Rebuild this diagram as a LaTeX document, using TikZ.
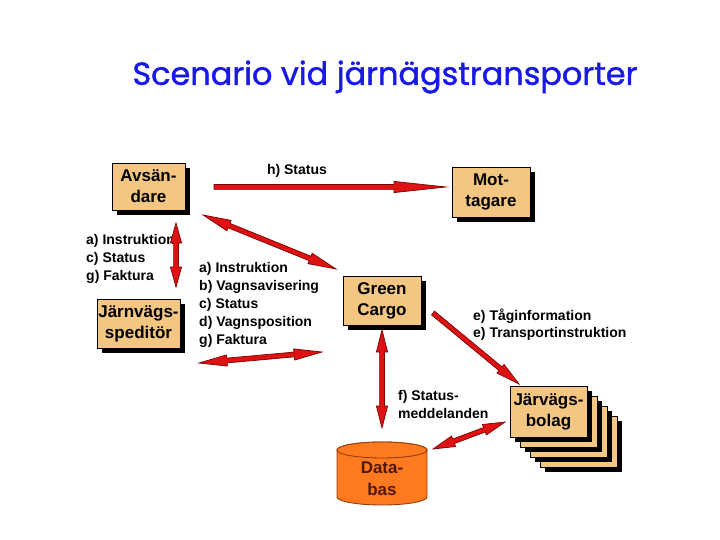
\documentclass[tikz,border=0pt]{standalone}
\usepackage{fontspec}
\setmainfont{Liberation Sans}
\newfontfamily\titlefont[FakeBold=1.3]{Poppins}
\usetikzlibrary{calc,shadows}
\definecolor{boxtan}{RGB}{243,198,130}
\definecolor{arrred}{RGB}{222,18,18}
\definecolor{arrdark}{RGB}{125,0,0}
\definecolor{dborange}{RGB}{255,122,30}
\definecolor{dbline}{RGB}{150,60,10}
\definecolor{dbtext}{RGB}{80,25,5}
\definecolor{titleblue}{RGB}{25,25,230}
\def\sw{2.4pt}
\def\hw{5.6pt}
\newcommand\dblarrow[3]{%
  \filldraw[arrowstyle] (#1)
    -- ($(#1)!#3!(#2)!\hw!90:(#2)$)
    -- ($(#1)!#3!(#2)!\sw!90:(#2)$)
    -- ($(#2)!#3!(#1)!\sw!-90:(#1)$)
    -- ($(#2)!#3!(#1)!\hw!-90:(#1)$)
    -- (#2)
    -- ($(#2)!#3!(#1)!\hw!90:(#1)$)
    -- ($(#2)!#3!(#1)!\sw!90:(#1)$)
    -- ($(#1)!#3!(#2)!\sw!-90:(#2)$)
    -- ($(#1)!#3!(#2)!\hw!-90:(#2)$)
    -- cycle;}
\newcommand\sglarrow[3]{%
  \filldraw[arrowstyle] ($(#1)!\sw!90:(#2)$)
    -- ($(#2)!#3!(#1)!\sw!-90:(#1)$)
    -- ($(#2)!#3!(#1)!\hw!-90:(#1)$)
    -- (#2)
    -- ($(#2)!#3!(#1)!\hw!90:(#1)$)
    -- ($(#2)!#3!(#1)!\sw!90:(#1)$)
    -- ($(#1)!\sw!-90:(#2)$)
    -- cycle;}
\begin{document}
\begin{tikzpicture}[x=1pt,y=-1pt,
  box/.style={draw=black, line width=0.6pt, fill=boxtan, align=center,
    inner sep=0pt, font=\bfseries\fontsize{17}{21}\selectfont,
    drop shadow={shadow xshift=5pt, shadow yshift=-5pt, opacity=1, fill=black}},
  lbl/.style={align=left, inner sep=0pt, font=\bfseries\fontsize{14}{18}\selectfont},
  arrowstyle/.style={fill=arrred, draw=arrdark, line width=0.7pt, line join=miter},
  dbstyle/.style={fill=dborange, draw=dbline, line width=0.9pt}]
\useasboundingbox (0,0) rectangle (720,540);
\fill[white] (0,0) rectangle (720,540);

% title
\node[text=titleblue, inner sep=0pt] (title) at (385,77) {\resizebox{505pt}{!}{\titlefont\fontsize{28}{32}\selectfont Scenario vid järnägstransporter}};

% boxes
\node[box, minimum width=73pt, minimum height=47pt] (avs) at (148.5,186.5) {Avsän-\\dare};
\node[box, minimum width=78pt, minimum height=50pt] (mot) at (491,192) {Mot-\\tagare};
\node[box, minimum width=83pt, minimum height=49pt] (spe) at (138.5,323.5) {Järnvägs-\\speditör};
\node[box, minimum width=78pt, minimum height=49pt] (gc) at (382,300.5) {Green\\Cargo};
\node[box, minimum width=77pt, minimum height=51pt] (jb4) at (578.5,441.5) {};
\node[box, minimum width=77pt, minimum height=51pt] (jb3) at (568.5,431.5) {};
\node[box, minimum width=77pt, minimum height=51pt] (jb2) at (558.5,421.5) {};
\node[box, minimum width=77pt, minimum height=51pt] (jb) at (548.5,411.5) {Järvägs-\\bolag};

% database
\filldraw[dbstyle] (337,450) -- (337,497) arc[start angle=180, end angle=360, x radius=45pt, y radius=8pt]
  -- (427,450) arc[start angle=0, end angle=180, x radius=45pt, y radius=8pt] -- cycle;
\draw[dbstyle] (382,450) ellipse [x radius=45pt, y radius=8pt];
\node[align=center, inner sep=0pt, text=dbtext, font=\bfseries\fontsize{17}{22}\selectfont] (db) at (382,479) {Data-\\bas};

% labels
\node[lbl] (hst) at (297,171) {h) Status};
\node[lbl, anchor=west] (lA) at (86,259) {a) Instruktion\\c) Status\\g) Faktura};
\node[lbl, anchor=west] (lB) at (199,305) {a) Instruktion\\b) Vagnsavisering\\c) Status\\d) Vagnsposition\\g) Faktura};
\node[lbl, anchor=west, font=\bfseries\fontsize{14}{17}\selectfont] (lE) at (473,324.5) {e) Tåginformation\\e) Transportinstruktion};
\node[lbl, anchor=west] (lF) at (398,404) {f) Status-\\meddelanden};

% arrow end points
\coordinate (h1) at (214,187);
\coordinate (h2) at (446,187);
\coordinate (d1) at (203,215);
\coordinate (d2) at (336,269);
\coordinate (v1) at (176,223);
\coordinate (v2) at (176,287);
\coordinate (b1) at (199,363);
\coordinate (b2) at (322,352);
\coordinate (g1) at (382,330);
\coordinate (g2) at (382,428);
\coordinate (t1) at (433,313);
\coordinate (t2) at (519,384);
\coordinate (s1) at (433,449);
\coordinate (s2) at (505,422);

% arrows
\sglarrow{h1}{h2}{52pt}
\dblarrow{d1}{d2}{28pt}
\dblarrow{v1}{v2}{20pt}
\dblarrow{b1}{b2}{28pt}
\dblarrow{g1}{g2}{22pt}
\sglarrow{t1}{t2}{24pt}
\dblarrow{s1}{s2}{22pt}
\end{tikzpicture}
\end{document}
